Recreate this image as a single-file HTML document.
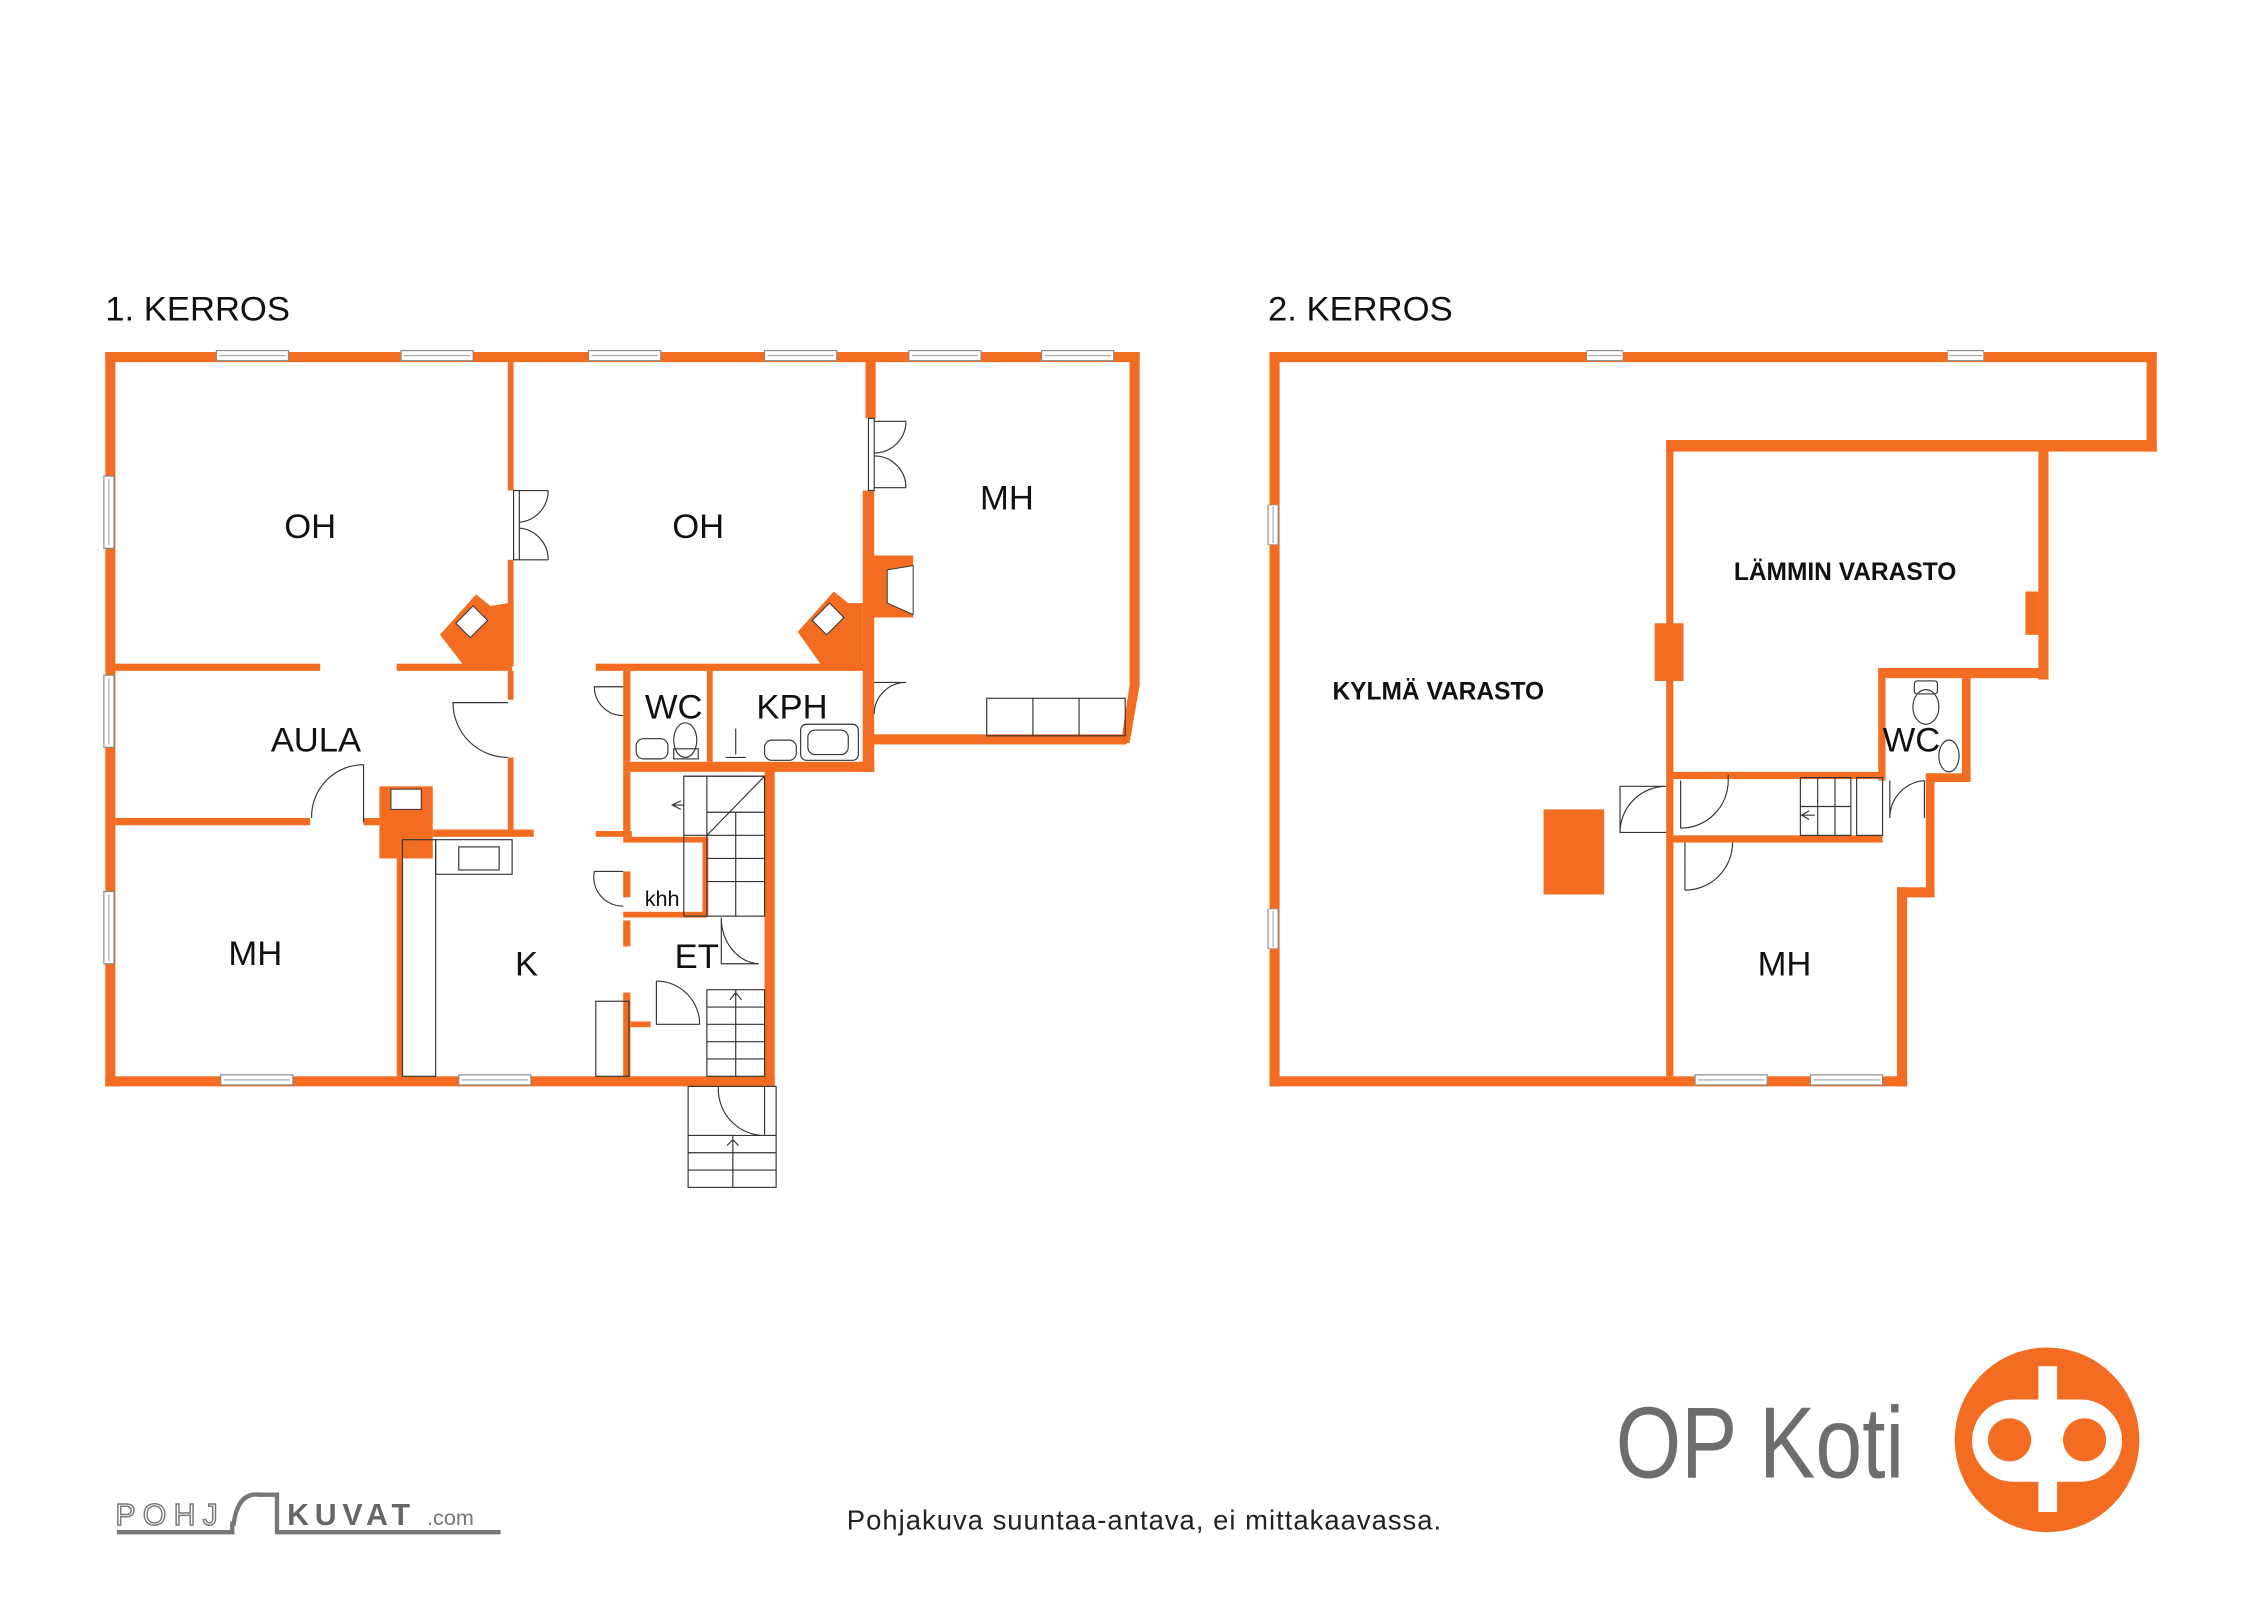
<!DOCTYPE html>
<html><head><meta charset="utf-8"><style>
html,body{margin:0;padding:0;background:#fff;width:2262px;height:1600px;overflow:hidden}
svg{display:block}
text{font-family:"Liberation Sans","DejaVu Sans",sans-serif}
</style></head><body>
<svg width="2262" height="1600" viewBox="0 0 1568 1109" preserveAspectRatio="none" xmlns="http://www.w3.org/2000/svg">
<defs>
<g id="winh"><rect x="0" y="-2" width="50" height="7" fill="#fff" stroke="#888" stroke-width="0.8"/><line x1="2" y1="1.5" x2="48" y2="1.5" stroke="#888" stroke-width="0.6"/></g>
<g id="winv"><rect x="-2" y="0" width="7" height="50" fill="#fff" stroke="#888" stroke-width="0.8"/><line x1="1.5" y1="2" x2="1.5" y2="48" stroke="#888" stroke-width="0.6"/></g>
</defs>
<g fill="#f26d21">
<rect x="73" y="244" width="717" height="7"/>
<rect x="73" y="244" width="7" height="509"/>
<rect x="73" y="746" width="464" height="7"/>
<rect x="530" y="530" width="7" height="223"/>
<rect x="432" y="528" width="174" height="7"/>
<rect x="600" y="244" width="7" height="46"/>
<rect x="598" y="340" width="8" height="195"/>
<polygon points="783,244 790,244 790,475 783,515 777,515 783,475"/>
<rect x="600" y="509" width="181" height="7"/>
<rect x="352" y="251" width="4" height="89"/>
<rect x="352" y="388" width="4" height="72"/>
<rect x="80" y="460" width="142" height="5"/>
<rect x="275" y="460" width="80" height="5"/>
<rect x="413" y="460" width="187" height="5"/>
<rect x="352" y="465" width="4" height="20"/>
<rect x="352" y="525" width="4" height="50"/>
<rect x="80" y="567" width="135" height="5"/>
<rect x="252" y="567" width="11" height="5"/>
<rect x="300" y="575" width="70" height="5"/>
<rect x="275" y="580" width="4" height="166"/>
<rect x="432" y="465" width="5" height="63"/>
<rect x="490" y="465" width="4" height="63"/>
<rect x="413" y="576" width="25" height="4"/>
<rect x="432" y="535" width="5" height="45"/>
<rect x="432" y="580" width="58" height="4"/>
<rect x="487" y="580" width="4" height="55"/>
<rect x="432" y="604" width="5" height="18"/>
<rect x="432" y="632" width="58" height="4"/>
<rect x="432" y="638" width="5" height="18"/>
<rect x="432" y="688" width="5" height="58"/>
<rect x="437" y="708" width="14" height="4"/>
<polygon points="305,440 330,412 340,420 352,418 356,418 356,462 322,462"/>
<polygon points="553,438 578,410 588,418 598,418 598,462 570,462"/>
<rect x="600" y="385" width="33" height="43"/>
<rect x="263" y="545" width="37" height="50"/>
<rect x="880" y="244" width="615" height="7"/>
<rect x="880" y="244" width="7" height="509"/>
<rect x="880" y="746" width="442" height="7"/>
<rect x="1488" y="244" width="7" height="69"/>
<rect x="1155" y="305" width="340" height="8"/>
<rect x="1413" y="305" width="7" height="166"/>
<rect x="1155" y="305" width="5" height="441"/>
<rect x="1302" y="463" width="118" height="7"/>
<rect x="1302" y="463" width="5" height="78"/>
<rect x="1360" y="470" width="6" height="71"/>
<rect x="1335" y="536" width="31" height="6"/>
<rect x="1335" y="536" width="6" height="86"/>
<rect x="1315" y="615" width="26" height="7"/>
<rect x="1315" y="615" width="7" height="138"/>
<rect x="1160" y="535" width="143" height="5"/>
<rect x="1160" y="579" width="145" height="5"/>
<rect x="1147" y="432" width="20" height="40"/>
<rect x="1404" y="410" width="9" height="30"/>
<rect x="1070" y="561" width="42" height="59"/>
</g>
<g fill="#fff" stroke="#333" stroke-width="0.7">
<polygon points="316,432 328,420 338,430 326,442"/>
<polygon points="563,430 575,418 585,428 573,440"/>
<polygon points="615,395 633,392 633,426 615,418"/>
<rect x="271" y="547" width="21" height="14"/>
</g>
<g>
<use href="#winh" x="150" y="245"/><use href="#winh" x="278" y="245"/><use href="#winh" x="408" y="245"/><use href="#winh" x="530" y="245"/><use href="#winh" x="630" y="245"/><use href="#winh" x="722" y="245"/>
<use href="#winh" x="153" y="747"/><use href="#winh" x="318" y="747"/>
<use href="#winv" x="74" y="330"/><use href="#winv" x="74" y="468"/><use href="#winv" x="74" y="618"/>
<use href="#winh" x="1100" y="245" transform="translate(1100 0) scale(0.5 1) translate(-1100 0)"/>
<use href="#winh" x="1350" y="245" transform="translate(1350 0) scale(0.5 1) translate(-1350 0)"/>
<use href="#winv" x="881" y="350" transform="translate(0 350) scale(1 0.55) translate(0 -350)"/>
<use href="#winv" x="881" y="630" transform="translate(0 630) scale(1 0.55) translate(0 -630)"/>
<use href="#winh" x="1175" y="747"/><use href="#winh" x="1255" y="747"/>
</g>
<g fill="none" stroke="#333" stroke-width="0.8">
<rect x="356" y="340" width="4" height="48"/>
<path d="M360,340 h20 M360,388 h20 M380,340 A22 22 0 0 1 360,362 M380,388 A22 22 0 0 0 360,366"/>
<rect x="602" y="290" width="4" height="50"/>
<path d="M606,292 h22 M606,338 h22 M628,292 A22 22 0 0 1 606,314 M628,338 A22 22 0 0 0 606,316"/>
<path d="M606,473 h22 A22 22 0 0 0 606,495"/>
<path d="M352,487 h-38 A38 38 0 0 0 352,525"/>
<path d="M252,530 v40 M252,530 A36 36 0 0 0 216,567"/>
<path d="M432,476 h-20 A20 20 0 0 0 432,496"/>
<path d="M432,604 h-20 A20 20 0 0 0 432,628"/>
<path d="M455,680 v30 h30 M455,680 A30 30 0 0 1 485,710"/>
<path d="M500,636 v32 h26 M500,636 A27 32 0 0 0 526,668"/>
<rect x="279" y="582" width="23" height="164"/>
<rect x="302" y="582" width="53" height="24"/>
<rect x="318" y="587" width="28" height="16"/>
<rect x="413" y="694" width="23" height="52"/>
<rect x="684" y="484" width="96" height="26"/>
<path d="M716,484 v26 M748,484 v26"/>
<rect x="441" y="512" width="22" height="14" rx="5"/>
<ellipse cx="475" cy="513" rx="8" ry="12"/>
<rect x="467" y="519" width="17" height="7"/>
<rect x="555" y="502" width="40" height="25" rx="4"/>
<rect x="560" y="506" width="28" height="17" rx="5"/>
<rect x="530" y="513" width="22" height="14" rx="5"/>
<path d="M510,505 v18 M503,525 h14"/>
<rect x="474" y="538" width="56" height="97"/>
<path d="M474,538 h56 M474,579 h16 M490,538 v97 M490,563 h40 M490,579 h40 M490,595 h40 M490,611 h40 M510,563 v72 M490,579 L530,538 M474,558 h-8 M472,555 L466,558 L472,561"/>
<rect x="490" y="686" width="40" height="60"/>
<path d="M490,698 h40 M490,710 h40 M490,722 h40 M490,734 h40 M510,686 v60 M510,700 v-12 M506,693 L510,688 L514,693"/>
<rect x="477" y="753" width="61" height="70"/>
<path d="M477,787 h61 M477,799 h61 M477,811 h61 M508,787 v36 M498,753 A32 32 0 0 0 530,787 M530,753 v34 M508,790 l-4,4 M508,790 l4,4"/>
<path d="M1155,545 h-32 v32 h32 M1155,545 A32 32 0 0 0 1123,577"/>
<path d="M1165,541 v33 M1165,574 A33 33 0 0 0 1198,541 M1198,537 v4"/>
<path d="M1168,584 v33 M1168,617 A33 33 0 0 0 1201,584"/>
<rect x="1248" y="539" width="35" height="40"/>
<path d="M1260,539 v40 M1272,539 v40 M1248,559 h35 M1248,565 h10 M1254,562 l-5,3 l5,3"/>
<rect x="1287" y="539" width="18" height="40"/>
<path d="M1310,541 v26 A26 26 0 0 1 1334,541 M1334,541 v26"/>
<rect x="1327" y="472" width="16" height="9" rx="2"/>
<ellipse cx="1335" cy="490" rx="9" ry="12"/>
<ellipse cx="1351" cy="524" rx="7" ry="11"/>
</g>
<g font-size="24" fill="#111" text-anchor="middle">
<text x="215" y="373">OH</text><text x="484" y="373">OH</text><text x="698" y="353">MH</text>
<text x="219" y="521">AULA</text><text x="177" y="669">MH</text><text x="365" y="676">K</text>
<text x="467" y="498">WC</text><text x="549" y="498">KPH</text><text x="483" y="671">ET</text>
<text x="1237" y="676">MH</text><text x="1325" y="521">WC</text>
</g>
<text x="459" y="628" font-size="15" fill="#111" text-anchor="middle">khh</text>
<g font-size="17" font-weight="bold" fill="#111" text-anchor="middle">
<text x="1279" y="402">LÄMMIN VARASTO</text><text x="997" y="485">KYLMÄ VARASTO</text>
</g>
<text x="73" y="222" font-size="24" fill="#111">1.  KERROS</text>
<text x="879" y="222" font-size="24" fill="#111">2. KERROS</text>
<text x="793" y="1060" font-size="19" fill="#222" text-anchor="middle" textLength="412">Pohjakuva suuntaa-antava, ei mittakaavassa.</text>
<text x="1120" y="1024" font-size="70" fill="#6d6d6d" textLength="200" lengthAdjust="spacingAndGlyphs">OP Koti</text>
<circle cx="1419" cy="998" r="64" fill="#f26d21"/>
<rect x="1367" y="970" width="104" height="57" rx="28.5" fill="#fff"/>
<circle cx="1393" cy="998" r="15" fill="#f26d21"/><circle cx="1445" cy="998" r="15" fill="#f26d21"/>
<rect x="1413" y="947" width="13" height="101" fill="#fff"/>
<text x="80" y="1057" font-size="21" fill="#fff" stroke="#777" stroke-width="1" letter-spacing="5">POHJ</text>
<path d="M81,1062 h80 v-6 h1 q3,-22 18,-20 h12 v26 h155" fill="none" stroke="#777" stroke-width="3"/>
<text x="199" y="1057" font-size="21" font-weight="bold" fill="#666" letter-spacing="4">KUVAT</text>
<text x="296" y="1057" font-size="15" fill="#777">.com</text>
</svg>
</body></html>
